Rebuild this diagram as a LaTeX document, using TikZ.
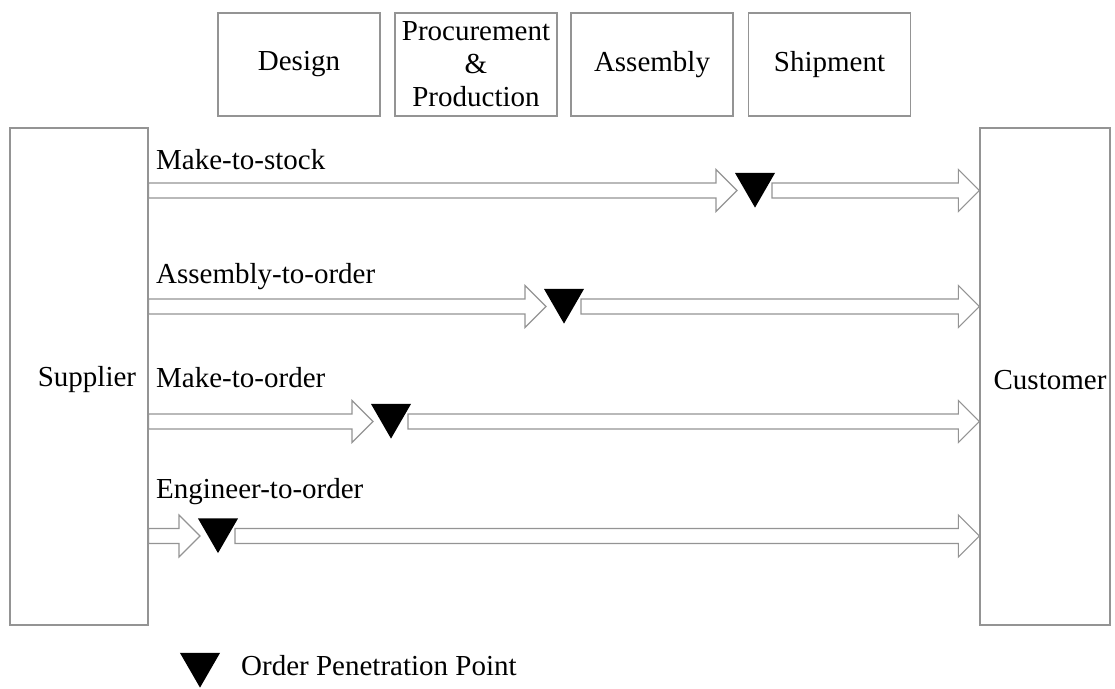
\documentclass[tikz,border=0pt]{standalone}
\usepackage{fontspec}
\setmainfont{Liberation Serif}
\usetikzlibrary{shapes.geometric,calc}

\tikzset{
  base font/.style={font=\fontsize{29}{33}\selectfont},
  stagebox/.style={draw=black!42, line width=1.3pt, minimum width=162pt,
    minimum height=103pt, align=center, inner sep=0pt, base font},
  partybox/.style={draw=black!42, line width=1.3pt, minimum height=497pt,
    inner sep=0pt},
  opp/.style={regular polygon, regular polygon sides=3, shape border rotate=180,
    fill=black, draw=none, inner sep=0pt, minimum size=46.2pt},
  flow/.style={draw=black!42, line width=1.1pt, fill=white, line join=miter},
  txt/.style={base font, inner sep=0pt},
}

% hollow block arrow from #1 (tail) to #2 (tip), both on the same row
\newcommand\blockarrow[2]{%
  \path[flow] let \p1=#1, \p2=#2 in
    (\x1,{\y1+7.5pt}) -- ({\x2-21pt},{\y1+7.5pt}) -- ({\x2-21pt},{\y1+21pt})
    -- (\x2,\y1) -- ({\x2-21pt},{\y1-21pt}) -- ({\x2-21pt},{\y1-7.5pt})
    -- (\x1,{\y1-7.5pt}) -- cycle;}

\begin{document}
\begin{tikzpicture}[x=1pt,y=-1pt]
\useasboundingbox (0,0) rectangle (1115,688);

% process stages
\node[stagebox] (design)   at (299,64.5) {Design};
\node[stagebox] (procure)  at (476,64.5) {Procurement\\\&\\Production};
\node[stagebox] (assembly) at (652,64.5) {Assembly};
\node[stagebox] (shipment) at (829.5,64.5) {Shipment};

% supplier and customer
\node[partybox, minimum width=138pt] (supplier) at (79,376.5) {};
\node[partybox, minimum width=130pt] (customer) at (1045,376.5) {};
\node[txt] (suptxt) at (87,380) {Supplier};
\node[txt] (custxt) at (1050,380) {Customer};

% order penetration points
\node[opp] (opp1) at (755,184.5) {};
\node[opp] (opp2) at (564,300.5) {};
\node[opp] (opp3) at (391,415.5) {};
\node[opp] (opp4) at (218,530) {};

% strategy labels
\node[txt, anchor=base west] (l1) at (156,169) {Make-to-stock};
\node[txt, anchor=base west] (l2) at (156,283) {Assembly-to-order};
\node[txt, anchor=base west] (l3) at (156,387) {Make-to-order};
\node[txt, anchor=base west] (l4) at (156,498) {Engineer-to-order};

% material flows
\foreach \i in {1,2,3,4}{
  \coordinate (in\i)  at ($(opp\i.center)+(-18,6)$);
  \coordinate (out\i) at ($(opp\i.center)+(17,6)$);
  \blockarrow{(supplier.east |- in\i)}{(in\i)}
  \blockarrow{(out\i)}{(customer.west |- out\i)}
}

% legend
\node[opp] (key) at (200,664.5) {};
\node[txt, anchor=base west] (keytxt) at (241,675) {Order Penetration Point};
\end{tikzpicture}
\end{document}
